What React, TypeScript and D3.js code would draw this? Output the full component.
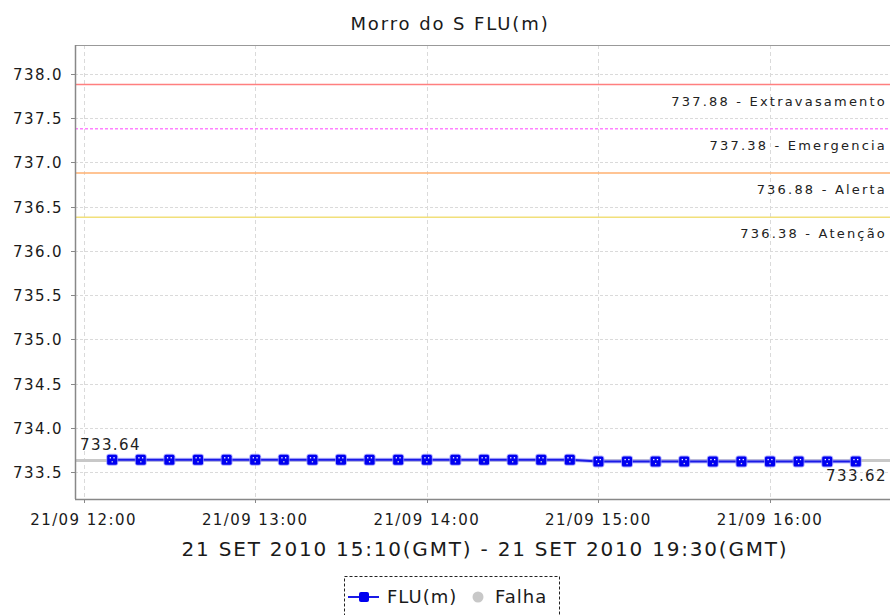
import React from "react";
import * as d3 from "d3";

const title = "Morro do S FLU(m)";
const xAxisTitle = "21 SET 2010 15:10(GMT) - 21 SET 2010 19:30(GMT)";
const timeLabels = [
  "12:10", "12:20", "12:30", "12:40", "12:50", "13:00", "13:10", "13:20", "13:30",
  "13:40", "13:50", "14:00", "14:10", "14:20", "14:30", "14:40", "14:50", "15:00",
  "15:10", "15:20", "15:30", "15:40", "15:50", "16:00", "16:10", "16:20", "16:30",
];
const fluValues = [
  733.64, 733.64, 733.64, 733.64, 733.64, 733.64, 733.64, 733.64, 733.64,
  733.64, 733.64, 733.64, 733.64, 733.64, 733.64, 733.64, 733.64, 733.62,
  733.62, 733.62, 733.62, 733.62, 733.62, 733.62, 733.62, 733.62, 733.62,
];
const grayLevel = 733.63;
const thresholdValues = [737.88, 737.38, 736.88, 736.38];
const thresholdNames = ["Extravasamento", "Emergencia", "Alerta", "Atenção"];
const thresholdColors = ["#ff7f7f", "#ff80ff", "#ffb070", "#f2e07a"];
const yTicks = [733.5, 734.0, 734.5, 735.0, 735.5, 736.0, 736.5, 737.0, 737.5, 738.0];
const xTickLabels = ["12:00", "13:00", "14:00", "15:00", "16:00"];
const legendNames = ["FLU(m)", "Falha"];

const W = 890;
const H = 615;
const left = 75;
const right = 893;
const top = 45;
const bottom = 499;
const FONT = "'DejaVu Sans', sans-serif";

const toDate = (hm: string) => {
  const [h, m] = hm.split(":").map(Number);
  return new Date(2010, 8, 21, h, m);
};

export default function App() {
  const x = d3.scaleTime().domain([toDate("11:57"), toDate("16:43")]).range([left, right]);
  const y = d3.scaleLinear().domain([733.195, 738.328]).range([bottom, top]);
  const fmt = d3.timeFormat("%d/%m %H:%M");
  const pts = timeLabels.map((t, i) => ({ t: toDate(t), v: fluValues[i] }));
  const line = d3.line<{ t: Date; v: number }>().x((d) => x(d.t)).y((d) => y(d.v));
  const pathD = line(pts) || "";
  const first = pts[0];
  const last = pts[pts.length - 1];

  return (
    <svg width={W} height={H} style={{ position: "absolute", left: 0, top: 0, background: "#fff" }}
      fontFamily={FONT}>
      <defs>
        <clipPath id="plotClip">
          <rect x={left} y={top} width={right - left} height={bottom - top} />
        </clipPath>
      </defs>
      <text x={450} y={30} textAnchor="middle" fontSize={18} letterSpacing={1.9} fill="#1a1a1a">{title}</text>

      {/* grid */}
      <g stroke="#dadada" strokeWidth={1} strokeDasharray="3,2">
        {yTicks.map((v) => (
          <line key={"gy" + v} x1={left} x2={right} y1={Math.round(y(v)) + 0.5} y2={Math.round(y(v)) + 0.5} />
        ))}
        {xTickLabels.map((t) => (
          <line key={"gx" + t} x1={Math.round(x(toDate(t))) + 0.5} x2={Math.round(x(toDate(t))) + 0.5} y1={top} y2={bottom} strokeDasharray="4,3" />
        ))}
      </g>

      {/* thresholds */}
      {thresholdValues.map((v, i) => (
        <g key={"th" + v}>
          <line x1={left} x2={right} y1={y(v)} y2={y(v)} stroke={thresholdColors[i]} strokeWidth={1.5}
            strokeDasharray={i === 1 ? "3,2" : undefined} />
          <text x={887} y={y(v) + 21} textAnchor="end" fontSize={13} letterSpacing={2.2} fill="#222">
            {v.toFixed(2) + " - " + thresholdNames[i]}
          </text>
        </g>
      ))}

      {/* gray level line */}
      <line x1={left} x2={right} y1={y(grayLevel)} y2={y(grayLevel)} stroke="#c8c8c8" strokeWidth={3} />

      {/* series */}
      <g clipPath="url(#plotClip)">
        <path d={pathD} fill="none" stroke="#9999ff" strokeWidth={4} opacity={0.6} />
        <path d={pathD} fill="none" stroke="#1a1ae6" strokeWidth={2} />
        {pts.map((p, i) => (
          <g key={"pt" + i} transform={`translate(${x(p.t)},${y(p.v)})`}>
            <rect x={-6} y={-6} width={12} height={12} rx={3} fill="#8c8cff" opacity={0.7} />
            <rect x={-5} y={-5} width={10} height={10} rx={1.5} fill="#0000f0" />
            <rect x={-2.5} y={-2.5} width={1.3} height={1.3} fill="#fff" />
            <rect x={1.2} y={-2.5} width={1.3} height={1.3} fill="#fff" />
            <rect x={-0.6} y={1.5} width={1.3} height={1.3} fill="#ddd" />
          </g>
        ))}
      </g>
      <text x={80} y={y(first.v) - 10} fontSize={15} letterSpacing={1.4} fill="#222">{first.v.toFixed(2)}</text>
      <text x={887} y={y(last.v) + 20} textAnchor="end" fontSize={15} letterSpacing={1.4} fill="#222">{last.v.toFixed(2)}</text>

      {/* axes */}
      <rect x={left + 0.5} y={top + 0.5} width={right - left} height={bottom - top} fill="none" stroke="#999" strokeWidth={1} />
      <line x1={left + 0.5} x2={left + 0.5} y1={top} y2={bottom} stroke="#888" strokeWidth={1.5} />
      <line x1={left} x2={right} y1={bottom + 0.5} y2={bottom + 0.5} stroke="#888" strokeWidth={1.5} />
      {yTicks.map((v) => (
        <g key={"yt" + v}>
          <line x1={left - 4} x2={left} y1={Math.round(y(v)) + 0.5} y2={Math.round(y(v)) + 0.5} stroke="#888" />
          <text x={63} y={y(v) + 6} textAnchor="end" fontSize={15} letterSpacing={1.4} fill="#1a1a1a">{v.toFixed(1)}</text>
        </g>
      ))}
      {xTickLabels.map((t) => {
        const d = toDate(t);
        return (
          <g key={"xt" + t}>
            <line x1={Math.round(x(d)) + 0.5} x2={Math.round(x(d)) + 0.5} y1={bottom} y2={bottom + 4} stroke="#888" />
            <text x={x(d)} y={525} textAnchor="middle" fontSize={15} letterSpacing={1.4} fill="#1a1a1a">{fmt(d)}</text>
          </g>
        );
      })}
      <text x={485} y={556} textAnchor="middle" fontSize={20} letterSpacing={1.8} fill="#1a1a1a">{xAxisTitle}</text>

      {/* legend */}
      <rect x={344.5} y={576.5} width={215} height={45} fill="none" stroke="#222" strokeWidth={1} strokeDasharray="3,2" />
      <line x1={348} x2={379} y1={597} y2={597} stroke="#1a1ae6" strokeWidth={2} />
      <rect x={359} y={592} width={10} height={10} rx={2} fill="#0000f0" />
      <text x={387} y={603} fontSize={18} letterSpacing={1} fill="#1a1a1a">{legendNames[0]}</text>
      <circle cx={478} cy={597} r={5.5} fill="#c8c8c8" />
      <text x={495} y={603} fontSize={18} letterSpacing={1} fill="#1a1a1a">{legendNames[1]}</text>
    </svg>
  );
}
